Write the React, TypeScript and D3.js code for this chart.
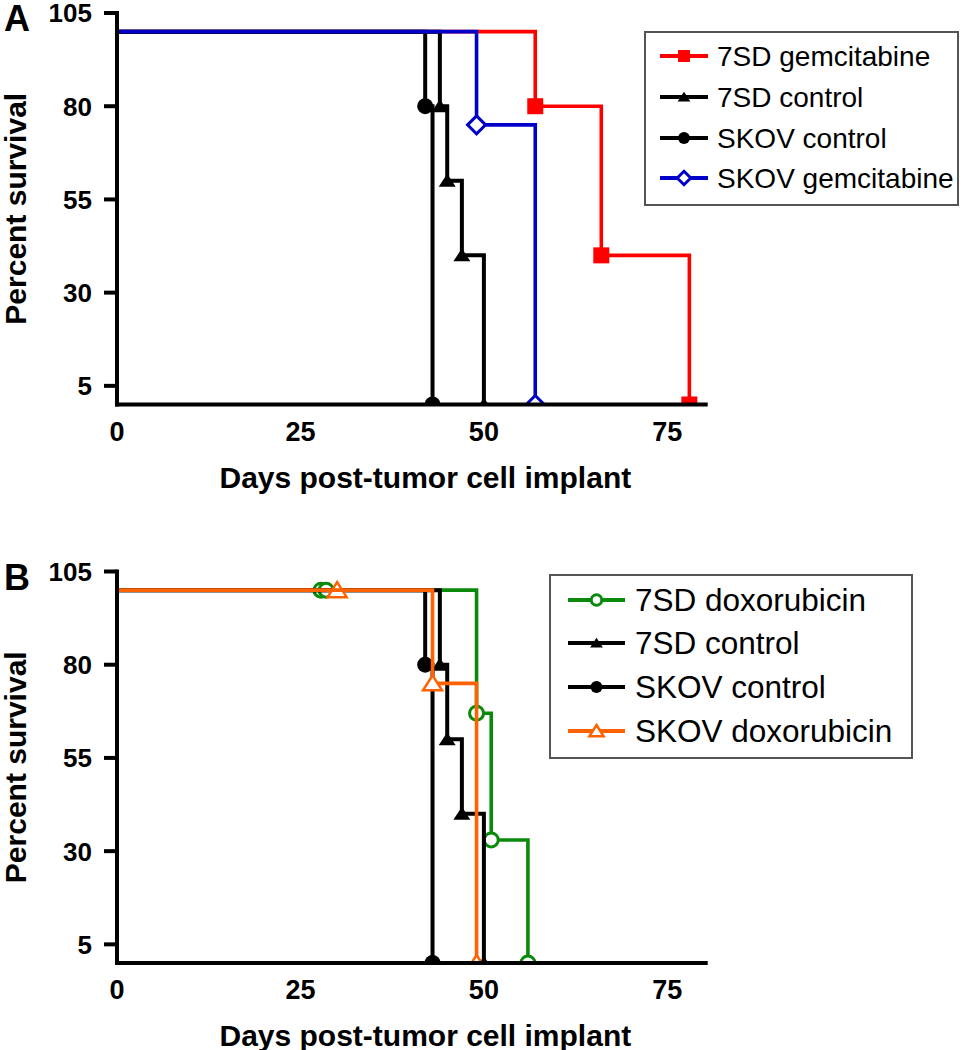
import React from "react";
import * as d3 from "d3";

// ---------- data ----------
const xTicks = [0, 25, 50, 75];
const yTicks = [5, 30, 55, 80, 105];

// Panel A (times in days, survival in percent)
const gem7sdTimes = [0, 57, 66, 78];
const gem7sdSurv = [100, 80, 40, 0];
const ctrl7sdTimes = [0, 44, 45, 47, 50];
const ctrl7sdSurv = [100, 80, 60, 40, 0];
const ctrlSkovTimes = [0, 42, 43];
const ctrlSkovSurv = [100, 80, 0];
const gemSkovTimes = [0, 49, 57];
const gemSkovSurv = [100, 75, 0];

// Panel B
const dox7sdTimes = [0, 49, 51, 56];
const dox7sdSurv = [100, 67, 33, 0];
const dox7sdCensored = [27.8, 28.5];
const doxSkovTimes = [0, 43, 49];
const doxSkovSurv = [100, 75, 0];
const doxSkovCensored = [30];

const legendA = ["7SD gemcitabine", "7SD control", "SKOV control", "SKOV gemcitabine"];
const legendB = ["7SD doxorubicin", "7SD control", "SKOV control", "SKOV doxorubicin"];

const RED = "#ff0000";
const BLUE = "#0000c8";
const GREEN = "#0a8a0a";
const ORANGE = "#ff6200";
const BLACK = "#000000";

const FONT = "'Liberation Sans', Arial, Helvetica, sans-serif";

type Shape = "square" | "triangle" | "circle" | "diamond" | "ocircle" | "otriangle";

function Marker({ shape, x, y, color, s = 1 }: { shape: Shape; x: number; y: number; color: string; s?: number }) {
  switch (shape) {
    case "square":
      return <rect x={x - 8 * s} y={y - 8 * s} width={16 * s} height={16 * s} fill={color} />;
    case "triangle":
      return (
        <path
          d={`M${x},${y - 7 * s} L${x + 8.5 * s},${y + 6 * s} L${x - 8.5 * s},${y + 6 * s} Z`}
          fill={color}
        />
      );
    case "circle":
      return <circle cx={x} cy={y} r={8 * s} fill={color} />;
    case "diamond":
      return (
        <path
          d={`M${x},${y - 9 * s} L${x + 9 * s},${y} L${x},${y + 9 * s} L${x - 9 * s},${y} Z`}
          fill="#fff"
          stroke={color}
          strokeWidth={3}
        />
      );
    case "ocircle":
      return <circle cx={x} cy={y} r={7 * s} fill="#fff" stroke={color} strokeWidth={3} />;
    case "otriangle":
      return (
        <path
          d={`M${x},${y - 8 * s} L${x + 9.5 * s},${y + 7 * s} L${x - 9.5 * s},${y + 7 * s} Z`}
          fill="#fff"
          stroke={color}
          strokeWidth={2.5}
        />
      );
  }
  return null;
}

type Series = {
  times: number[];
  surv: number[];
  color: string;
  shape: Shape;
  censored?: number[];
  width?: number;
};

const x = d3.scaleLinear().domain([0, 80.5]).range([117, 707.7]);

function Panel({
  id,
  top,
  letter,
  series,
  legend,
  legendBox,
  legendRows,
  legendLine,
  legendTextX,
  legendFont,
  legendShapes,
  legendColors,
}: {
  id: string;
  top: number;
  letter: string;
  series: Series[];
  legend: string[];
  legendBox: [number, number, number, number];
  legendRows: number[];
  legendLine: [number, number];
  legendTextX: number;
  legendFont: number;
  legendShapes: Shape[];
  legendColors: string[];
}) {
  const y = d3.scaleLinear().domain([0, 105]).range([top + 391.5, top]);
  const line = d3
    .line<[number, number]>()
    .x((d) => x(d[0]))
    .y((d) => y(d[1]))
    .curve(d3.curveStepAfter);
  const y0 = y(0);
  const x0 = x(0);
  return (
    <g>
      <defs>
        <clipPath id={`clip-${id}`}>
          <rect x={x0} y={y(105) - 20} width={x(80.5) - x0 + 20} height={y0 - y(105) + 20} />
        </clipPath>
      </defs>
      <g clipPath={`url(#clip-${id})`}>
        {series.map((s, i) => {
          const pts: [number, number][] = s.times.map((t, j) => [t, s.surv[j]]);
          return (
            <g key={i}>
              {(s.censored || []).map((c, k) => (
                <Marker key={"c" + k} shape={s.shape} x={x(c)} y={y(100)} color={s.color} />
              ))}
              <path d={line(pts) || ""} fill="none" stroke={s.color} strokeWidth={s.width ?? 3.6} strokeLinejoin="miter" />
              {pts.slice(1).map((p, k) => (
                <Marker key={k} shape={s.shape} x={x(p[0])} y={y(p[1])} color={s.color} />
              ))}
            </g>
          );
        })}
      </g>
      {/* axes */}
      <line x1={x0} x2={x0} y1={y(105) - 2} y2={y0 + 2} stroke="#000" strokeWidth={4} />
      <line x1={x0 - 2} x2={x(80.5)} y1={y0} y2={y0} stroke="#000" strokeWidth={4} />
      {yTicks.map((t) => (
        <g key={t}>
          <line x1={x0 - 13} x2={x0} y1={y(t)} y2={y(t)} stroke="#000" strokeWidth={4} />
          <text
            x={x0 - 25}
            y={y(t)}
            dy="0.36em"
            textAnchor="end"
            fontFamily={FONT}
            fontWeight="bold"
            fontSize={26}
          >
            {t}
          </text>
        </g>
      ))}
      {xTicks.map((t) => (
        <text
          key={t}
          x={x(t)}
          y={y0 + 36}
          textAnchor="middle"
          fontFamily={FONT}
          fontWeight="bold"
          fontSize={27}
        >
          {t}
        </text>
      ))}
      <text
        x={(x(0) + x(80.5)) / 2 + 13}
        y={y0 + 83}
        textAnchor="middle"
        fontFamily={FONT}
        fontWeight="bold"
        fontSize={30}
      >
        Days post-tumor cell implant
      </text>
      <text
        transform={`translate(26,${(y(0) + y(105)) / 2}) rotate(-90)`}
        textAnchor="middle"
        fontFamily={FONT}
        fontWeight="bold"
        fontSize={30}
      >
        Percent survival
      </text>
      <text x={4} y={top + 18} fontFamily={FONT} fontWeight="bold" fontSize={36}>
        {letter}
      </text>
      {/* legend */}
      <rect
        x={legendBox[0]}
        y={legendBox[1]}
        width={legendBox[2] - legendBox[0]}
        height={legendBox[3] - legendBox[1]}
        fill="#fff"
        stroke="#555"
        strokeWidth={2}
      />
      {legend.map((name, i) => (
        <g key={name}>
          <line
            x1={legendLine[0]}
            x2={legendLine[1]}
            y1={legendRows[i]}
            y2={legendRows[i]}
            stroke={legendColors[i]}
            strokeWidth={4}
          />
          <Marker
            shape={legendShapes[i]}
            x={(legendLine[0] + legendLine[1]) / 2}
            y={legendRows[i]}
            color={legendColors[i]}
            s={0.75}
          />
          <text x={legendTextX} y={legendRows[i]} dy="0.35em" fontFamily={FONT} fontSize={legendFont}>
            {name}
          </text>
        </g>
      ))}
    </g>
  );
}

export default function App() {
  const seriesA: Series[] = [
    { times: gem7sdTimes, surv: gem7sdSurv, color: RED, shape: "square" },
    { times: ctrl7sdTimes, surv: ctrl7sdSurv, color: BLACK, shape: "triangle", width: 4 },
    { times: ctrlSkovTimes, surv: ctrlSkovSurv, color: BLACK, shape: "circle", width: 4 },
    { times: gemSkovTimes, surv: gemSkovSurv, color: BLUE, shape: "diamond" },
  ];
  const seriesB: Series[] = [
    { times: dox7sdTimes, surv: dox7sdSurv, color: GREEN, shape: "ocircle", censored: dox7sdCensored },
    { times: ctrl7sdTimes, surv: ctrl7sdSurv, color: BLACK, shape: "triangle", width: 4 },
    { times: ctrlSkovTimes, surv: ctrlSkovSurv, color: BLACK, shape: "circle", width: 4 },
    { times: doxSkovTimes, surv: doxSkovSurv, color: ORANGE, shape: "otriangle", censored: doxSkovCensored },
  ];
  return (
    <svg
      width={971}
      height={1050}
      style={{ position: "absolute", left: 0, top: 0, background: "#fff" }}
    >
      <Panel
        id="a"
        top={13}
        letter="A"
        series={seriesA}
        legend={legendA}
        legendBox={[645, 32, 958, 205]}
        legendRows={[56, 97, 138, 178]}
        legendLine={[660, 708]}
        legendTextX={717}
        legendFont={28}
        legendShapes={["square", "triangle", "circle", "diamond"]}
        legendColors={[RED, BLACK, BLACK, BLUE]}
      />
      <Panel
        id="b"
        top={571.5}
        letter="B"
        series={seriesB}
        legend={legendB}
        legendBox={[550, 575, 912, 758]}
        legendRows={[600, 643, 687, 731]}
        legendLine={[568, 625]}
        legendTextX={635}
        legendFont={31.5}
        legendShapes={["ocircle", "triangle", "circle", "otriangle"]}
        legendColors={[GREEN, BLACK, BLACK, ORANGE]}
      />
    </svg>
  );
}
